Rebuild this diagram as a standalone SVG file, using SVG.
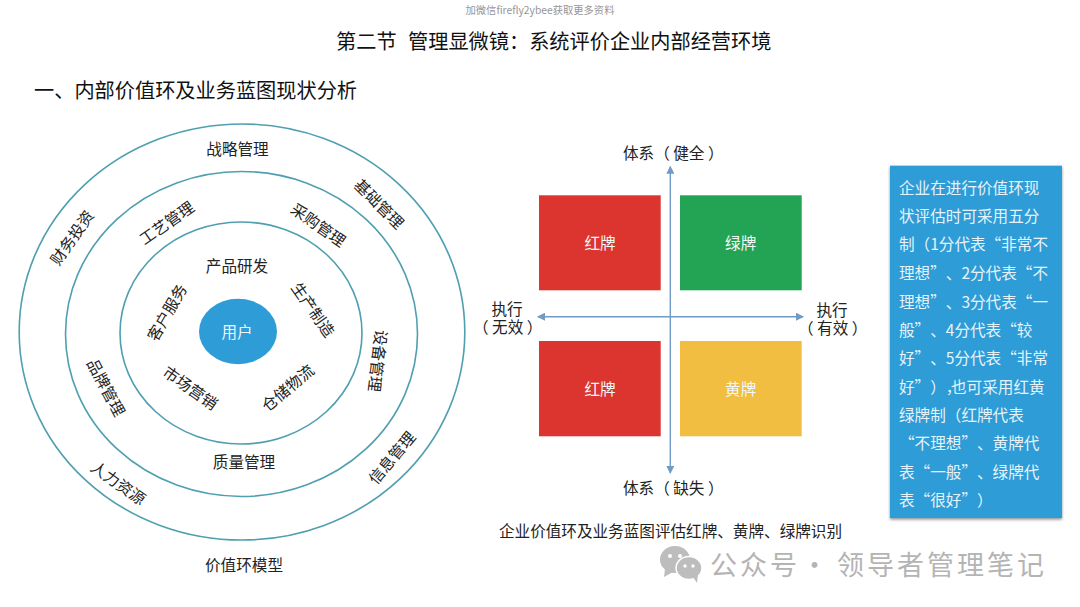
<svg xmlns="http://www.w3.org/2000/svg" width="1080" height="607" viewBox="0 0 1080 607">
<defs>
<marker id="ah" markerWidth="8" markerHeight="8" refX="7" refY="4" orient="auto-start-reverse" markerUnits="userSpaceOnUse"><path d="M0 0L8 4L0 8Z" fill="#6f9bc4"/></marker>
<filter id="sh" x="-5%" y="-5%" width="110%" height="110%"><feDropShadow dx="0" dy="1.5" stdDeviation="1.5" flood-color="#000" flood-opacity=".45"/></filter>
</defs>
<style>
text{font-family:"Noto Sans CJK SC","Liberation Sans",sans-serif;font-size:15.6px;fill:#222;text-anchor:middle;dominant-baseline:central;text-spacing-trim:space-all;white-space:pre}
.ring{fill:none;stroke:#4f9fb0;stroke-width:1.6}
.w{fill:#f2f7f7}
.p{fill:#e6f3fa;text-anchor:start}
.s{text-anchor:start}
.h{font-size:20.2px;fill:#111}
.ax{stroke:#6f9bc4;stroke-width:1.4;fill:none;marker-start:url(#ah);marker-end:url(#ah)}
.wm{fill:#b4b4b4;font-size:27px;letter-spacing:3px;text-anchor:start}
</style>
<rect width="1080" height="607" fill="#fff"/>
<text x="540" y="9.5" style="font-size:10.3px;fill:#969696">加微信firefly2ybee获取更多资料</text>
<text y="39.5" class="h s"><tspan x="336">第二节</tspan><tspan x="408">管理显微镜：系统评价企业内部经营环境</tspan></text>
<text x="34" y="89.5" class="h" style="text-anchor:start">一、内部价值环及业务蓝图现状分析</text>

<g id="value-chain">
<ellipse id="ring-outer" class="ring" cx="242" cy="332" rx="222.8" ry="208"/>
<ellipse id="ring-middle" class="ring" cx="241.5" cy="334" rx="176" ry="162.5"/>
<ellipse id="ring-inner" class="ring" cx="241" cy="333" rx="121" ry="111"/>
<g id="core"><ellipse cx="238" cy="331.5" rx="39" ry="32.7" fill="#2e9cd6"/><text x="237" y="331" class="w">用户</text></g>
<text x="237.5" y="148">战略管理</text>
<text transform="translate(380 203) rotate(45)">基础管理</text>
<text transform="translate(319 224) rotate(35)">采购管理</text>
<text transform="translate(166 222) rotate(-35)">工艺管理</text>
<text transform="translate(71 237) rotate(-55)">财务投资</text>
<text x="237" y="265">产品研发</text>
<text transform="translate(166 312) rotate(-60)">客户服务</text>
<text transform="translate(314 309) rotate(55)">生产制造</text>
<text transform="translate(379 361) rotate(97)">设备管理</text>
<text transform="translate(107 387) rotate(62)">品牌管理</text>
<text transform="translate(191 387) rotate(35)">市场营销</text>
<text transform="translate(287 387) rotate(-40)">仓储物流</text>
<text x="244" y="461">质量管理</text>
<text transform="translate(119 482) rotate(35)">人力资源</text>
<text transform="translate(391 457) rotate(-50)">信息管理</text>
<text x="244" y="564">价值环模型</text>
</g>

<g id="connectors">
<line class="ax" x1="670.3" y1="473" x2="670.3" y2="166.7"/>
<line class="ax" x1="538" y1="316.7" x2="803" y2="316.7"/>
</g>

<g id="q-red-top"><rect x="539" y="195.3" width="121.7" height="95" fill="#dc3530"/><text x="600" y="241.7" class="w">红牌</text></g>
<g id="q-green"><rect x="680" y="195.3" width="121.7" height="95" fill="#23a455"/><text x="740.7" y="241.7" class="w">绿牌</text></g>
<g id="q-red-bottom"><rect x="539" y="341" width="121.7" height="95.3" fill="#dc3530"/><text x="600" y="387.7" class="w">红牌</text></g>
<g id="q-yellow"><rect x="680" y="341" width="121.7" height="95.3" fill="#f2be41"/><text x="740.7" y="387.7" class="w">黄牌</text></g>

<g id="axis-labels">
<text class="s" x="623" y="151.7">体系（ 健全 ）</text>
<text class="s" x="623" y="486.7">体系（ 缺失 ）</text>
<text x="507" y="308">执行</text>
<text class="s" x="473" y="326">（ 无效 ）</text>
<text x="832" y="309">执行</text>
<text class="s" x="798" y="327">（ 有效 ）</text>
<text x="670.5" y="530">企业价值环及业务蓝图评估红牌、黄牌、绿牌识别</text>
</g>

<g id="panel">
<rect x="890" y="165.7" width="172" height="352.3" fill="#2e9cd6" filter="url(#sh)"/>
<text class="p" x="899" y="186.7">企业在进行价值环现</text>
<text class="p" x="899" y="214.7">状评估时可采用五分</text>
<text class="p" x="899" y="243.3">制（1分代表“非常不</text>
<text class="p" x="899" y="272.3">理想”、2分代表“不</text>
<text class="p" x="899" y="300.7">理想”、3分代表“一</text>
<text class="p" x="899" y="329">般”、4分代表“较</text>
<text class="p" x="899" y="357.3">好”、5分代表“非常</text>
<text class="p" x="899" y="385.7">好”）<tspan style="letter-spacing:-10.4px">，</tspan>也可采用红黄</text>
<text class="p" x="899" y="414">绿牌制（红牌代表</text>
<text class="p" x="899" y="442.3">“不理想”、黄牌代</text>
<text class="p" x="899" y="470.7">表“一般”、绿牌代</text>
<text class="p" x="899" y="499">表“很好”）</text>
</g>

<g id="watermark">
<ellipse cx="675" cy="559.5" rx="15" ry="13.5" fill="#bdbdbd"/>
<path d="M665 569L664 577L673 572Z" fill="#bdbdbd"/>
<ellipse cx="689" cy="568" rx="13" ry="11.5" stroke="#fff" stroke-width="1.5" fill="#bdbdbd"/>
<path d="M693 577L697 583L698 575Z" fill="#bdbdbd"/>
<circle cx="670" cy="556" r="2" fill="#fff"/><circle cx="680" cy="556" r="2" fill="#fff"/>
<circle cx="685" cy="566" r="1.7" fill="#fff"/><circle cx="693" cy="566" r="1.7" fill="#fff"/>
<text class="wm" y="563"><tspan x="710">公众号</tspan><tspan x="801">·</tspan><tspan x="837">领导者管理笔记</tspan></text>
</g>
</svg>
